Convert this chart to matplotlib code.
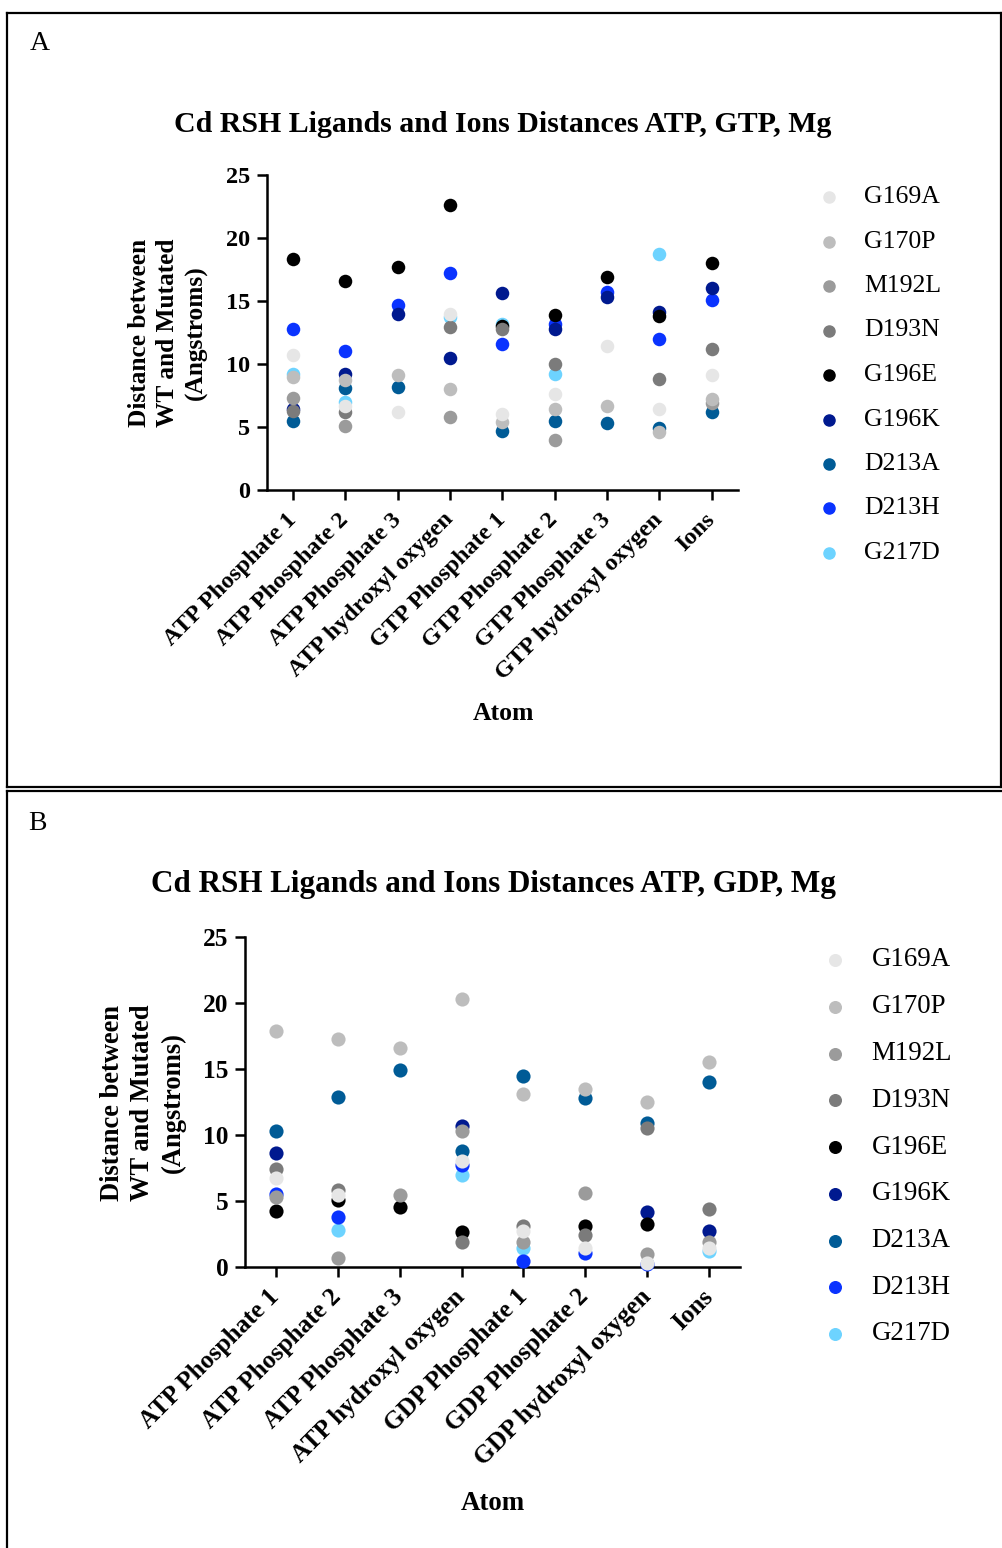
import numpy as np
import matplotlib.pyplot as plt
from matplotlib.lines import Line2D

nan = np.nan

mutants = ["G169A", "G170P", "M192L", "D193N", "G196E", "G196K", "D213A", "D213H", "G217D"]
colors = ["#e6e6e6", "#bdbdbd", "#9b9b9b", "#7b7b7b", "#000000",
          "#00198f", "#005b96", "#0a33ff", "#6dd3ff"]

# Panel A: ATP, GTP, Mg
atoms_a = ["ATP Phosphate 1", "ATP Phosphate 2", "ATP Phosphate 3", "ATP hydroxyl oxygen",
           "GTP Phosphate 1", "GTP Phosphate 2", "GTP Phosphate 3", "GTP hydroxyl oxygen", "Ions"]
g169a_a = [10.7, 6.7, 6.2, 14.0, 6.0, 7.6, 11.4, 6.4, 9.1]
g170p_a = [9.0, 8.7, 9.1, 8.0, 5.4, 6.4, 6.7, 4.6, 7.2]
m192l_a = [7.3, 5.1, nan, 5.8, nan, 4.0, nan, nan, 6.9]
d193n_a = [6.3, 6.2, nan, 12.9, 12.75, 10.0, nan, 8.8, 11.2]
g196e_a = [18.3, 16.6, 17.7, 22.6, 13.0, 13.9, 16.9, 13.8, 18.0]
g196k_a = [6.4, 9.2, 14.0, 10.5, 15.6, 12.8, 15.3, 14.1, 16.0]
d213a_a = [5.5, 8.1, 8.2, nan, 4.7, 5.5, 5.3, 4.9, 6.2]
d213h_a = [12.8, 11.0, 14.7, 17.2, 11.6, 13.2, 15.7, 12.0, 15.1]
g217d_a = [9.2, 7.0, nan, 13.7, 13.2, 9.2, nan, 18.7, nan]

# Panel B: ATP, GDP, Mg
atoms_b = ["ATP Phosphate 1", "ATP Phosphate 2", "ATP Phosphate 3", "ATP hydroxyl oxygen",
           "GDP Phosphate 1", "GDP Phosphate 2", "GDP hydroxyl oxygen", "Ions"]
g169a_b = [6.7, 5.45, nan, 8.05, 2.7, 1.45, 0.3, 1.4]
g170p_b = [17.9, 17.3, 16.6, 20.3, 13.1, 13.45, 12.5, 15.5]
m192l_b = [5.3, 0.65, 5.45, 10.3, 1.85, 5.6, 1.0, 1.9]
d193n_b = [7.4, 5.8, nan, 1.85, 3.05, 2.4, 10.5, 4.35]
g196e_b = [4.25, 5.05, 4.5, 2.65, nan, 3.05, 3.25, nan]
g196k_b = [8.6, nan, nan, 10.7, nan, nan, 4.15, 2.7]
d213a_b = [10.3, 12.85, 14.9, 8.75, 14.45, 12.8, 10.9, 14.0]
d213h_b = [5.55, 3.75, nan, 7.7, 0.45, 1.05, 0.2, nan]
g217d_b = [nan, 2.75, nan, 6.95, 1.45, nan, nan, 1.2]

series_a = [g169a_a, g170p_a, m192l_a, d193n_a, g196e_a, g196k_a, d213a_a, d213h_a, g217d_a]
series_b = [g169a_b, g170p_b, m192l_b, d193n_b, g196e_b, g196k_b, d213a_b, d213h_b, g217d_b]

plt.rcParams["font.family"] = ["Liberation Serif", "DejaVu Serif"]

W, H = 1003, 1548
fig = plt.figure(figsize=(W / 100, H / 100), dpi=100)


def fx(px):
    return px / W


def fy(py):
    return 1 - py / H


# panel frames
lw_frame = 1.6
fig.add_artist(Line2D([fx(7.5), fx(1001)], [fy(12.5), fy(12.5)], color="black", lw=lw_frame))
fig.add_artist(Line2D([fx(7.5), fx(7.5)], [fy(12.5), fy(787)], color="black", lw=lw_frame))
fig.add_artist(Line2D([fx(1001), fx(1001)], [fy(12.5), fy(787)], color="black", lw=lw_frame))
fig.add_artist(Line2D([fx(7.5), fx(1003)], [fy(787), fy(787)], color="black", lw=lw_frame))
fig.add_artist(Line2D([fx(7.5), fx(1003)], [fy(791), fy(791)], color="black", lw=lw_frame))
fig.add_artist(Line2D([fx(7.5), fx(7.5)], [fy(791), fy(1548)], color="black", lw=lw_frame))

fig.text(fx(40), fy(43), "A", fontsize=20, ha="center", va="center")
fig.text(fx(37), fy(823), "B", fontsize=20, ha="center", va="center")


def panel(box, atoms, series, title, title_xy, ylab_xy, atom_xy, leg_xy, leg_gap, scale):
    left, right, top, bottom = box
    ax = fig.add_axes([fx(left), fy(bottom), fx(right - left), (bottom - top) / H])
    x = np.arange(len(atoms))
    n = len(series)
    for i in range(n):
        ax.scatter(x, series[i], s=95 * scale ** 2, color=colors[i], label=mutants[i],
                   zorder=10 + n - i, linewidths=0, clip_on=False)
    ax.set_xlim(-0.5, len(atoms) - 0.5)
    ax.set_ylim(0, 25)
    ax.set_yticks([0, 5, 10, 15, 20, 25])
    ax.set_xticks(x)
    ax.set_xticklabels(atoms, rotation=45, ha="right", va="center", rotation_mode="anchor")
    for side in ["top", "right"]:
        ax.spines[side].set_visible(False)
    for side in ["left", "bottom"]:
        ax.spines[side].set_linewidth(1.8)
    ax.tick_params(width=1.8, length=7, labelsize=17.5 * scale)
    ax.tick_params(axis="x", pad=12)
    ax.tick_params(axis="y", pad=5)
    for lab in ax.get_xticklabels() + ax.get_yticklabels():
        lab.set_fontweight("bold")
    fig.text(fx(title_xy[0]), fy(title_xy[1]), title, fontsize=21.5 * scale,
             fontweight="bold", ha="center", va="center")
    fig.text(fx(ylab_xy[0]), fy(ylab_xy[1]), "Distance between\nWT and Mutated\n(Angstroms)",
             fontsize=18.3 * scale, fontweight="bold", ha="center", va="center",
             rotation=90, linespacing=1.28)
    fig.text(fx(atom_xy[0]), fy(atom_xy[1]), "Atom", fontsize=18.5 * scale,
             fontweight="bold", ha="center", va="center")
    # legend drawn as a column of markers and names
    for i, m in enumerate(mutants):
        yy = leg_xy[1] + i * leg_gap
        fig.add_artist(Line2D([fx(leg_xy[0])], [fy(yy)], marker="o", markersize=8 * scale,
                              color=colors[i], linestyle="none"))
        fig.text(fx(leg_xy[0] + 35 * scale), fy(yy), m, fontsize=18.5 * scale,
                 ha="left", va="center")
    return ax


panel((267, 738, 175, 490), atoms_a, series_a,
      "Cd RSH Ligands and Ions Distances ATP, GTP, Mg", (503, 125),
      (168, 333), (503, 713), (829, 197), 44.5, 1.0)
panel((245, 740, 937, 1266.7), atoms_b, series_b,
      "Cd RSH Ligands and Ions Distances ATP, GDP, Mg", (493, 884),
      (143, 1103), (493, 1503), (835, 960), 46.75, 1.045)

fig.savefig("out.png", dpi=100)
